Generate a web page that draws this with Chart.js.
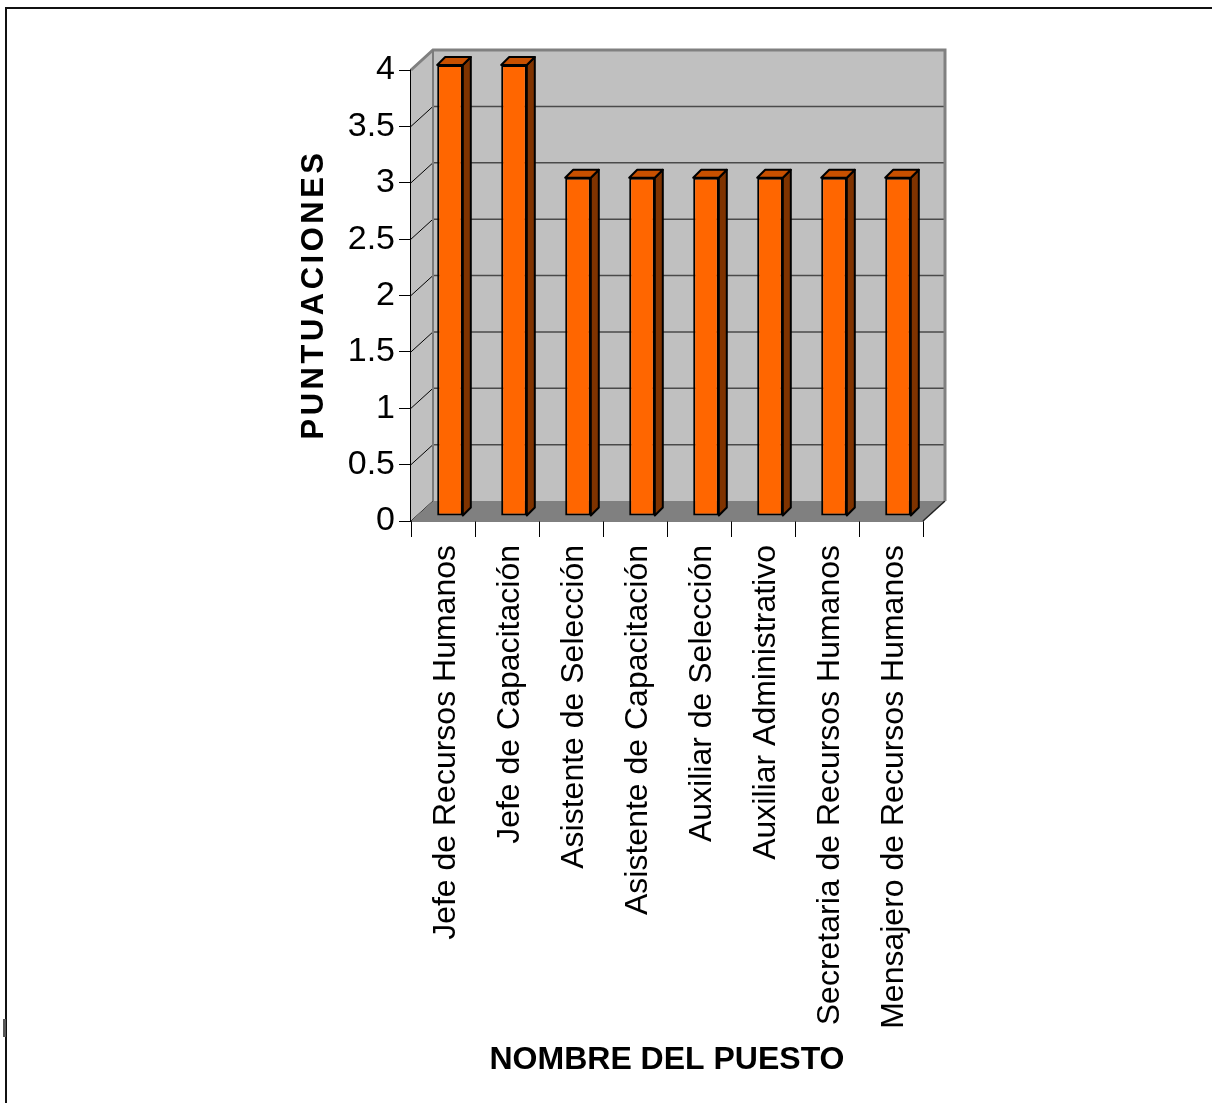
<!DOCTYPE html>
<html>
<head>
<meta charset="utf-8">
<script src="https://cdn.jsdelivr.net/npm/chart.js@4.4.1/dist/chart.umd.min.js"></script>
<style>
  html, body { margin: 0; padding: 0; background: #fff; }
  #wrap { position: relative; width: 1212px; height: 1103px; overflow: hidden; }
  #frame { position: absolute; left: 5px; top: 7px; width: 1300px; height: 1200px;
           border-left: 2px solid #111; border-top: 2px solid #111; }
  #nick { position: absolute; left: 3px; top: 1019px; width: 3px; height: 18px; background: #555; }
  canvas { position: absolute; left: 0; top: 0; }
</style>
</head>
<body>
<div id="wrap">
  <div id="frame"></div>
  <div id="nick"></div>
  <canvas id="c" width="1212" height="1103"></canvas>
</div>
<script>
// Puestos evaluados y su puntuación
const categories = [
  'Jefe de Recursos Humanos',
  'Jefe de Capacitación',
  'Asistente de Selección',
  'Asistente de Capacitación',
  'Auxiliar de Selección',
  'Auxiliar Administrativo',
  'Secretaria de Recursos Humanos',
  'Mensajero de Recursos Humanos'
];
const scores = [4, 4, 3, 3, 3, 3, 3, 3];
const yTickLabels = ['0', '0.5', '1', '1.5', '2', '2.5', '3', '3.5', '4'];
const yAxisTitle = 'PUNTUACIONES';
const xAxisTitle = 'NOMBRE DEL PUESTO';

// 3D look: depth of the walls and of each bar
const wallDepth = { dx: 22, dy: -20 };
const barShift = { dx: 7, dy: -5 };
const barDepth = 8;

const FONT = "'Liberation Sans', Arial, sans-serif";
Chart.defaults.font.family = FONT;
Chart.defaults.color = '#000';

function poly(ctx, pts, fill, stroke, lw) {
  ctx.beginPath();
  ctx.moveTo(pts[0][0], pts[0][1]);
  for (let i = 1; i < pts.length; i++) ctx.lineTo(pts[i][0], pts[i][1]);
  ctx.closePath();
  if (fill) { ctx.fillStyle = fill; ctx.fill(); }
  if (stroke) { ctx.strokeStyle = stroke; ctx.lineWidth = lw || 1; ctx.stroke(); }
}
function line(ctx, x1, y1, x2, y2, color, lw) {
  ctx.beginPath();
  ctx.moveTo(x1, y1); ctx.lineTo(x2, y2);
  ctx.strokeStyle = color; ctx.lineWidth = lw; ctx.stroke();
}

const box3d = {
  id: 'box3d',
  beforeDatasetsDraw(chart) {
    const { ctx, chartArea: a, scales: { y } } = chart;
    const { dx, dy } = wallDepth;
    const L = a.left, R = a.right, T = a.top, B = a.bottom;
    ctx.save();
    // side wall and back wall
    poly(ctx, [[L, B], [L, T], [L + dx, T + dy], [L + dx, B + dy]], '#c0c0c0');
    poly(ctx, [[L + dx, T + dy], [R + dx, T + dy], [R + dx, B + dy], [L + dx, B + dy]], '#c0c0c0');
    // grid lines on the walls
    y.ticks.forEach(t => {
      const yy = y.getPixelForValue(t.value);
      if (t.value > 0 && t.value < y.max) line(ctx, L + dx, yy + dy, R + dx, yy + dy, '#4a4a4a', 1.5);
      line(ctx, L, yy, L + dx, yy + dy, '#000', 1);
    });
    // floor
    poly(ctx, [[L, B], [R, B], [R + dx, B + dy], [L + dx, B + dy]], '#808080');
    line(ctx, R, B, R + dx, B + dy, '#222', 1.5);
    // wall edges
    ctx.lineJoin = 'miter';
    ctx.beginPath();
    ctx.moveTo(L, T);
    ctx.lineTo(L + dx, T + dy);
    ctx.lineTo(R + dx, T + dy);
    ctx.lineTo(R + dx, B + dy);
    ctx.strokeStyle = '#808080'; ctx.lineWidth = 3; ctx.stroke();
    line(ctx, L + dx, T + dy, L + dx, B + dy, '#7a7a7a', 2);
    ctx.restore();
    // bar faces sit a little behind the front edge
    ctx.save();
    ctx.translate(barShift.dx, barShift.dy);
  },
  afterDatasetsDraw(chart) {
    const { ctx } = chart;
    ctx.restore();
    ctx.save();
    ctx.lineJoin = 'round';
    chart.getDatasetMeta(0).data.forEach(bar => {
      const p = bar.getProps(['x', 'y', 'base', 'width'], true);
      const l = p.x - p.width / 2 + barShift.dx;
      const r = p.x + p.width / 2 + barShift.dx;
      const t = p.y + barShift.dy;
      const b = p.base + barShift.dy;
      poly(ctx, [[r, t], [r + barDepth, t - barDepth], [r + barDepth, b - barDepth], [r, b]], '#7f3300', '#000', 2);
      poly(ctx, [[l, t], [l + barDepth, t - barDepth], [r + barDepth, t - barDepth], [r, t]], '#c85000', '#000', 2);
    });
    ctx.restore();
  }
};

const titles = {
  id: 'titles',
  afterDraw(chart) {
    const { ctx, chartArea: a } = chart;
    ctx.save();
    ctx.fillStyle = '#000';
    ctx.textAlign = 'center';
    ctx.textBaseline = 'middle';
    // vertical axis title
    ctx.save();
    ctx.translate(314, (a.top + a.bottom) / 2 + 1);
    ctx.rotate(-Math.PI / 2);
    ctx.font = 'bold 31px ' + FONT;
    ctx.letterSpacing = '3.5px';
    ctx.fillText(yAxisTitle, 2, 0);
    ctx.restore();
    // horizontal axis title
    ctx.font = 'bold 32px ' + FONT;
    ctx.letterSpacing = '0px';
    ctx.fillText(xAxisTitle, 667, 1060);
    ctx.restore();
  }
};

new Chart(document.getElementById('c'), {
  type: 'bar',
  data: {
    labels: categories,
    datasets: [{
      data: scores,
      backgroundColor: '#ff6600',
      borderColor: '#000',
      borderWidth: 2,
      borderSkipped: false,
      categoryPercentage: 1,
      barPercentage: 0.4,
      clip: false
    }]
  },
  options: {
    responsive: false,
    animation: false,
    devicePixelRatio: 1,
    layout: { padding: { left: 0, right: 289, top: 70, bottom: 0 } },
    plugins: { legend: { display: false }, tooltip: { enabled: false }, title: { display: false } },
    scales: {
      x: {
        z: 1,
        offset: true,
        grid: { offset: true, drawOnChartArea: false, color: '#000', tickLength: 16, lineWidth: 1 },
        border: { display: true, color: '#000', width: 1.5 },
        ticks: { font: { size: 32 }, color: '#000', minRotation: 90, maxRotation: 90, autoSkip: false,
                 padding: 8, labelOffset: 3 },
        afterFit(s) { s.height = 582; }
      },
      y: {
        z: 1,
        min: 0,
        max: 4,
        grid: { drawOnChartArea: false, color: '#000', tickLength: 12, lineWidth: 1 },
        border: { display: true, color: '#000', width: 1.5 },
        ticks: { stepSize: 0.5, font: { size: 34 }, color: '#000', padding: 4,
                 callback: (v, i) => yTickLabels[i] },
        afterFit(s) { s.width = 411; }
      }
    }
  },
  plugins: [box3d, titles]
});
</script>
</body>
</html>
